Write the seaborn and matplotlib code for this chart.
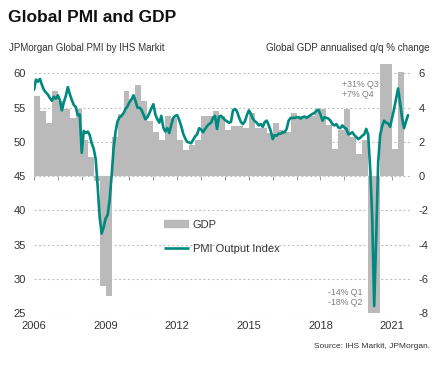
import numpy as np
import pandas as pd
import seaborn as sns
import matplotlib.pyplot as plt
from matplotlib.lines import Line2D

# JPMorgan Global PMI output index, monthly from Jan 2006
pmi = [
    57.6, 59.1, 58.8, 59.2, 58.3, 57.6, 57.2, 56.9, 56.4, 56.0, 56.6, 56.3,  # 2006
    56.8, 56.1, 54.6, 55.8, 56.7, 58.0, 57.0, 56.1, 55.4, 55.1, 53.9, 54.0,  # 2007
    48.4, 51.6, 51.3, 51.5, 51.0, 49.8, 49.0, 47.5, 43.5, 39.0, 36.6, 37.5,  # 2008
    38.8, 39.3, 41.5, 45.0, 49.0, 51.5, 53.0, 53.6, 53.8, 54.2, 54.8, 55.2,  # 2009
    55.8, 56.2, 56.8, 56.0, 55.0, 55.0, 54.7, 54.0, 53.3, 53.6, 54.2, 54.9,  # 2010
    55.5, 54.0, 53.3, 52.8, 53.8, 52.1, 51.5, 52.0, 51.3, 52.5, 53.5, 53.8,  # 2011
    53.9, 53.2, 52.3, 51.2, 50.5, 50.0, 49.9, 49.8, 50.3, 50.8, 51.1, 52.0,  # 2012
    51.8, 51.4, 51.9, 52.3, 52.6, 52.8, 53.5, 53.8, 51.9, 53.7, 53.8, 53.5,  # 2013
    53.2, 53.0, 52.8, 52.9, 54.6, 54.8, 54.5, 53.6, 52.9, 52.6, 53.0, 53.9,  # 2014
    54.6, 54.1, 53.4, 53.0, 52.8, 52.4, 52.6, 52.2, 52.9, 53.1, 52.4, 51.6,  # 2015
    50.4, 51.0, 50.9, 51.2, 51.2, 51.4, 51.4, 51.9, 53.1, 53.5, 53.5, 53.5,  # 2016
    53.6, 53.6, 53.4, 53.6, 53.7, 53.5, 53.7, 53.9, 54.1, 54.2, 54.6, 54.7,  # 2017
    54.0, 53.1, 53.6, 53.5, 53.4, 53.1, 52.6, 52.4, 52.6, 52.1, 52.0, 52.4,  # 2018
    52.1, 51.9, 51.1, 51.2, 51.4, 51.0, 50.7, 50.4, 50.6, 50.9, 51.1, 51.9,  # 2019
    51.0, 46.0, 39.0, 26.0, 36.0, 47.0, 51.0, 52.3, 53.1, 52.8, 52.7, 52.2,  # 2020
    53.5, 54.8, 56.3, 57.8, 55.8, 53.5, 52.0, 53.0, 53.9,                    # 2021
]

# Global GDP annualised q/q % change, quarterly from Q1 2006
gdp = [
    4.7, 3.8, 3.1, 5.0,     # 2006
    4.4, 3.9, 3.4, 3.9,     # 2007
    2.1, 1.1, -0.3, -6.4,   # 2008
    -7.0, 2.3, 3.6, 5.0,    # 2009
    4.5, 5.3, 4.4, 3.2,     # 2010
    2.6, 2.1, 3.5, 3.4,     # 2011
    2.1, 1.5, 1.8, 2.1,     # 2012
    3.5, 3.5, 3.8, 3.5,     # 2013
    2.7, 2.9, 2.9, 2.8,     # 2014
    3.7, 2.8, 2.8, 2.5,     # 2015
    3.1, 2.7, 2.6, 3.7,     # 2016
    3.5, 3.5, 3.5, 3.8,     # 2017
    3.9, 3.0, 1.6, 2.7,     # 2018
    3.9, 2.3, 1.3, 2.1,     # 2019
    -14.0, -18.0, 31.0, 7.0,  # 2020
    1.6, 6.1,               # 2021
]

year_labels = [2006, 2009, 2012, 2015, 2018, 2021]
pmi_ticks = [25, 30, 35, 40, 45, 50, 55, 60]
gdp_ticks = [-8, -6, -4, -2, 0, 2, 4, 6]

TEAL = "#00897f"
GREY = "#bababa"
TXT = "#333333"

sns.set_theme(style="white")
plt.rcParams['font.family'] = ['Liberation Sans', 'DejaVu Sans']
plt.rcParams['axes.unicode_minus'] = False

pmi_df = pd.DataFrame({'date': 2006 + np.arange(len(pmi)) / 12, 'PMI': pmi})
gdp_df = pd.DataFrame({'quarter': 2006 + np.arange(len(gdp)) / 4, 'GDP': gdp})

fig = plt.figure(figsize=(4.43, 3.65), dpi=100)
ax = fig.add_axes([34 / 443, 52 / 365, 376 / 443, 249 / 365])

# GDP bars on the right-hand scale
ax.bar(gdp_df['quarter'], gdp_df['GDP'], width=0.25, align='edge',
       color=GREY, linewidth=0, zorder=2)
ax.set_ylim(-8, 6.55)
ax.set_yticks(gdp_ticks)
ax.grid(axis='y', color='#c4c4c4', linestyle=(0, (2, 2)), linewidth=0.8, zorder=0)
ax.set_axisbelow(True)
ax.set_xlim(2006, 2021.75)
ax.set_xticks(year_labels)
for s in ax.spines.values():
    s.set_visible(False)

# small year ticks on the zero line
sec = ax.secondary_xaxis(8 / 14.55)
sec.set_alignment('bottom')
sec.set_xticks(range(2006, 2022))
sec.tick_params(axis='x', direction='out', length=3, width=0.7, color='#9a9a9a',
                labelbottom=False, labeltop=False)
for s in sec.spines.values():
    s.set_visible(False)

# PMI line on the left-hand scale
ax2 = ax.twinx()
sns.lineplot(data=pmi_df, x='date', y='PMI', ax=ax2, color=TEAL, linewidth=1.9)
ax2.set_ylim(25, 61.375)
ax2.set_yticks(pmi_ticks)
ax2.yaxis.tick_left()
ax.yaxis.tick_right()
ax2.set_xlabel('')
ax2.set_ylabel('')
ax.set_xlabel('')
ax.set_ylabel('')
ax.tick_params(axis='both', length=0, labelsize=8, colors=TXT)
ax.tick_params(axis='y', pad=6)
ax.tick_params(axis='x', pad=6)
ax2.tick_params(axis='y', length=0, labelsize=8, colors=TXT, pad=6)
for s in ax2.spines.values():
    s.set_visible(False)

# notes for the clipped 2020 bars
ax.text(2018.9, 5.05, "+31% Q3\n+7% Q4", fontsize=6.3, color='#7f7f7f',
        ha='left', va='center', linespacing=1.15)
ax.text(2019.74, -7.1, "-14% Q1\n-18% Q2", fontsize=6.3, color='#7f7f7f',
        ha='right', va='center', linespacing=1.15)

handles = [Line2D([0], [0], color=GREY, linewidth=6, solid_capstyle='butt'),
           Line2D([0], [0], color=TEAL, linewidth=1.9, solid_capstyle='butt')]
ax2.legend(handles, ['GDP', 'PMI Output Index'], loc='upper left',
           bbox_to_anchor=(0.345, 0.375), frameon=False, fontsize=8,
           handlelength=2.3, handletextpad=0.3, labelspacing=1.3, borderpad=0,
           borderaxespad=0, labelcolor=TXT)

fig.text(8 / 443, 1 - 18 / 365, "Global PMI and GDP", fontsize=12.5,
         fontweight='bold', va='center', color='#111111')
fig.text(9 / 443, 1 - 48 / 365, "JPMorgan Global PMI by IHS Markit",
         fontsize=7, va='center', color=TXT)
fig.text(430 / 443, 1 - 48 / 365, "Global GDP annualised q/q % change",
         fontsize=7, va='center', ha='right', color=TXT)
fig.text(430 / 443, 1 - 347 / 365, "Source: IHS Markit, JPMorgan.",
         fontsize=6, va='center', ha='right', color=TXT)

fig.savefig("out.png", dpi=100)
